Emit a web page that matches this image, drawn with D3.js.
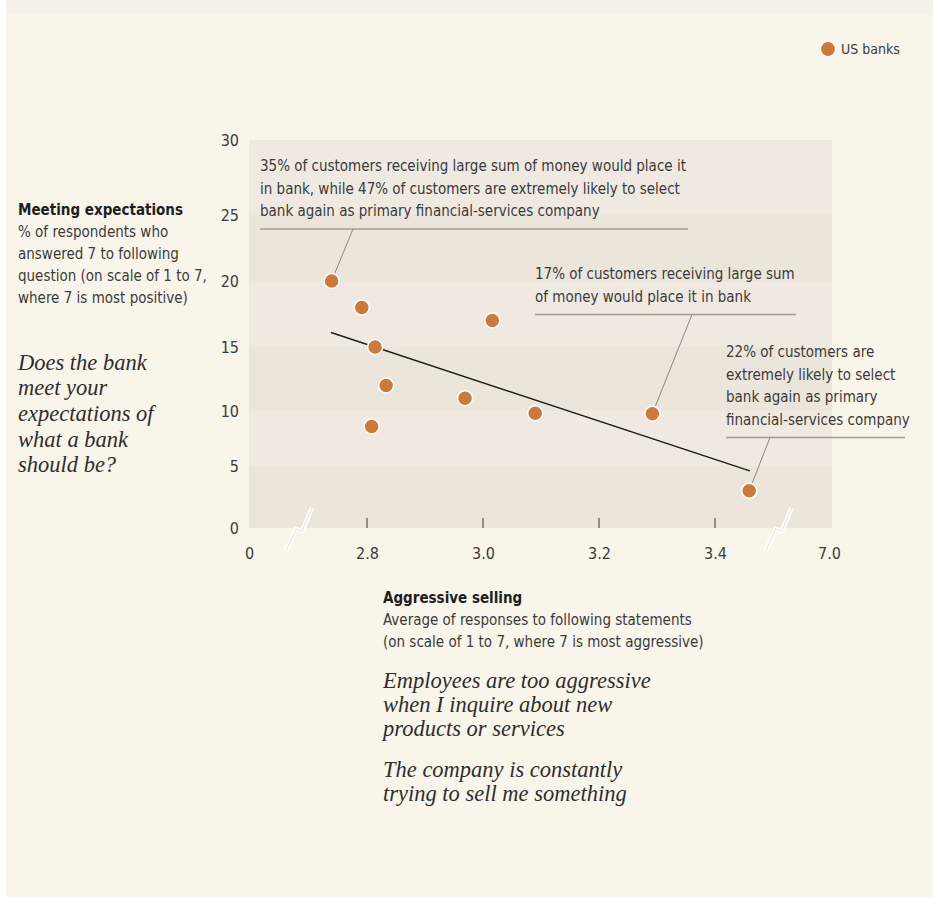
<!DOCTYPE html>
<html>
<head>
<meta charset="utf-8">
<script src="https://cdn.jsdelivr.net/npm/d3@7"></script>
<style>
  html, body { margin: 0; padding: 0; background: #ffffff; }
  svg { display: block; }
  .sans { font-family: 'Liberation Sans Narrow', 'DejaVu Sans Condensed', sans-serif; }
  .serif { font-family: 'Liberation Serif', 'DejaVu Serif', serif; font-style: italic; }
</style>
</head>
<body>
<svg id="chart" width="933" height="899"></svg>
<script>

// ---- data ----
var bankX = [2.739, 2.791, 2.814, 2.833, 2.808, 2.969, 3.016, 3.09, 3.292, 3.459];
var bankY = [20, 18, 15, 12, 8.6, 11, 17, 9.8, 9.75, 3];

var trendX = [2.738, 3.46];
var trendY = [16.1, 4.6];

var yTicks = [0, 5, 10, 15, 20, 25, 30];
var xTicks = [0, 2.8, 3.0, 3.2, 3.4, 7.0];
var xTickLabels = ['0', '2.8', '3.0', '3.2', '3.4', '7.0'];

var note1 = ['35% of customers receiving large sum of money would place it',
             'in bank, while 47% of customers are extremely likely to select',
             'bank again as primary financial-services company'];
var note2 = ['17% of customers receiving large sum',
             'of money would place it in bank'];
var note3 = ['22% of customers are',
             'extremely likely to select',
             'bank again as primary',
             'financial-services company'];

var yTitle = 'Meeting expectations';
var ySub = ['% of respondents who', 'answered 7 to following',
            'question (on scale of 1 to 7,', 'where 7 is most positive)'];
var yQuestion = ['Does the bank', 'meet your', 'expectations of', 'what a bank', 'should be?'];

var xTitle = 'Aggressive selling';
var xSub = ['Average of responses to following statements',
            '(on scale of 1 to 7, where 7 is most aggressive)'];
var xStatements = [['Employees are too aggressive', 'when I inquire about new', 'products or services'],
                   ['The company is constantly', 'trying to sell me something']];

// ---- layout ----
var svg = d3.select('#chart');
var ink = '#3b3b3b';
var dotColor = '#cc7a3b';
var fs = 15;

// page backgrounds
svg.append('rect').attr('x', 6).attr('y', 0).attr('width', 927).attr('height', 14).attr('fill', '#f4f0ea');
svg.append('rect').attr('x', 6).attr('y', 14).attr('width', 927).attr('height', 883).attr('fill', '#f9f5eb');

// the axes are broken, so both scales are piecewise
var x = d3.scaleLinear()
  .domain([0, 2.7, 3.5, 7.0])
  .range([249, 309, 773, 829]);

var y = d3.scaleLinear()
  .domain(yTicks)
  .range([528, 466, 411, 347, 281, 215, 140]);

var plotLeft = 249, plotRight = 832;

// alternating bands between the y ticks
var bands = d3.pairs(yTicks);
svg.append('g').selectAll('rect')
  .data(bands)
  .join('rect')
    .attr('x', plotLeft)
    .attr('width', plotRight - plotLeft)
    .attr('y', function(d) { return y(d[1]); })
    .attr('height', function(d) { return y(d[0]) - y(d[1]); })
    .attr('fill', function(d, i) { return i % 2 === 0 ? '#ece5dc' : '#efe9e2'; });

// y axis labels (no line, no ticks)
var yAxis = d3.axisLeft(y).tickValues(yTicks).tickSize(0).tickPadding(0);
var gy = svg.append('g').attr('transform', 'translate(239,0)').call(yAxis);
gy.select('.domain').remove();
gy.selectAll('text')
  .attr('class', 'sans')
  .attr('font-size', 16)
  .attr('fill', ink)
  .attr('dy', '0.35em');

// x axis: tick marks inside the plot, labels below
var xAxis = d3.axisBottom(x)
  .tickValues(xTicks)
  .tickFormat(function(d, i) { return xTickLabels[i]; })
  .tickSize(0)
  .tickPadding(0);
var gx = svg.append('g').attr('transform', 'translate(0,548)').call(xAxis);
gx.select('.domain').remove();
gx.selectAll('text')
  .attr('class', 'sans')
  .attr('font-size', 16)
  .attr('fill', ink)
  .attr('dy', '0.35em')
  .attr('y', 5);

svg.append('g').selectAll('line')
  .data(xTicks.slice(1, 5))
  .join('line')
    .attr('x1', function(d) { return x(d); })
    .attr('x2', function(d) { return x(d); })
    .attr('y1', 518)
    .attr('y2', 528)
    .attr('stroke', '#555')
    .attr('stroke-width', 1.2);

// break marks on the x axis
[2.25, 3.86].forEach(function(v) {
  var cx = x(v);
  var d = 'M' + (cx - 13) + ',551 L' + (cx - 3) + ',529 L' + (cx + 3) + ',531 L' + (cx + 13) + ',508';
  svg.append('path')
    .attr('d', d)
    .attr('fill', 'none')
    .attr('stroke', '#ffffff')
    .attr('stroke-width', 4.5);
  svg.append('path')
    .attr('d', d)
    .attr('fill', 'none')
    .attr('stroke', '#ebe5dc')
    .attr('stroke-width', 1.2);
});

// annotation text blocks
function note(lines, left, top, lineRight) {
  var g = svg.append('g');
  g.selectAll('text')
    .data(lines)
    .join('text')
      .attr('class', 'sans')
      .attr('x', left)
      .attr('y', function(d, i) { return top + i * 22.5; })
      .attr('dy', '0.35em')
      .attr('font-size', fs)
      .attr('fill', ink)
      .text(function(d) { return d; });
  var base = top + (lines.length - 1) * 22.5 + 18;
  g.append('line')
    .attr('x1', left).attr('x2', lineRight)
    .attr('y1', base).attr('y2', base)
    .attr('stroke', '#a39d96')
    .attr('stroke-width', 1.5);
  return base;
}

function leader(fromX, fromY, i) {
  var px = x(bankX[i]), py = y(bankY[i]);
  var dx = fromX - px, dy = fromY - py;
  var len = Math.sqrt(dx * dx + dy * dy);
  svg.append('line')
    .attr('x1', fromX).attr('y1', fromY)
    .attr('x2', px + dx / len * 8).attr('y2', py + dy / len * 8)
    .attr('stroke', '#8c8680')
    .attr('stroke-width', 1);
}

var b1 = note(note1, 260, 166, 688);
var b2 = note(note2, 535, 274, 796);
var b3 = note(note3, 726, 352, 905);

leader(353, b1, 0);
leader(692, b2, 8);
leader(770, b3, 9);

// trend line
svg.append('line')
  .attr('x1', x(trendX[0])).attr('y1', y(trendY[0]))
  .attr('x2', x(trendX[1])).attr('y2', y(trendY[1]))
  .attr('stroke', '#1c1c1c')
  .attr('stroke-width', 1.4);

// the banks
svg.append('g').selectAll('circle')
  .data(d3.range(bankX.length))
  .join('circle')
    .attr('cx', function(i) { return x(bankX[i]); })
    .attr('cy', function(i) { return y(bankY[i]); })
    .attr('r', 7.5)
    .attr('fill', dotColor)
    .attr('stroke', '#ffffff')
    .attr('stroke-width', 1.5);

// legend
svg.append('circle').attr('cx', 828).attr('cy', 49).attr('r', 7.5)
  .attr('fill', dotColor).attr('stroke', '#fff').attr('stroke-width', 1.2);
svg.append('text').attr('class', 'sans')
  .attr('x', 841).attr('y', 49).attr('dy', '0.35em')
  .attr('font-size', 14).attr('fill', ink).text('US banks');

// y axis title block
svg.append('text').attr('class', 'sans')
  .attr('x', 18).attr('y', 210).attr('dy', '0.35em')
  .attr('font-size', fs).attr('font-weight', 'bold').attr('fill', '#1e1e1e')
  .text(yTitle);
svg.append('g').selectAll('text')
  .data(ySub)
  .join('text')
    .attr('class', 'sans')
    .attr('x', 18)
    .attr('y', function(d, i) { return 232 + i * 22; })
    .attr('dy', '0.35em')
    .attr('font-size', fs)
    .attr('fill', ink)
    .text(function(d) { return d; });
svg.append('g').selectAll('text')
  .data(yQuestion)
  .join('text')
    .attr('class', 'serif')
    .attr('x', 18)
    .attr('y', function(d, i) { return 362 + i * 25.6; })
    .attr('dy', '0.35em')
    .attr('font-size', 22.5)
    .attr('fill', '#2e2e2e')
    .text(function(d) { return d; });

// x axis title block
svg.append('text').attr('class', 'sans')
  .attr('x', 383).attr('y', 598).attr('dy', '0.35em')
  .attr('font-size', fs).attr('font-weight', 'bold').attr('fill', '#1e1e1e')
  .text(xTitle);
svg.append('g').selectAll('text')
  .data(xSub)
  .join('text')
    .attr('class', 'sans')
    .attr('x', 383)
    .attr('y', function(d, i) { return 620 + i * 22; })
    .attr('dy', '0.35em')
    .attr('font-size', fs)
    .attr('fill', ink)
    .text(function(d) { return d; });

var stmtTop = [680, 769];
xStatements.forEach(function(lines, k) {
  svg.append('g').selectAll('text')
    .data(lines)
    .join('text')
      .attr('class', 'serif')
      .attr('x', 383)
      .attr('y', function(d, i) { return stmtTop[k] + i * 24; })
      .attr('dy', '0.35em')
      .attr('font-size', 22.5)
      .attr('fill', '#2e2e2e')
      .text(function(d) { return d; });
});

</script>
</body>
</html>
